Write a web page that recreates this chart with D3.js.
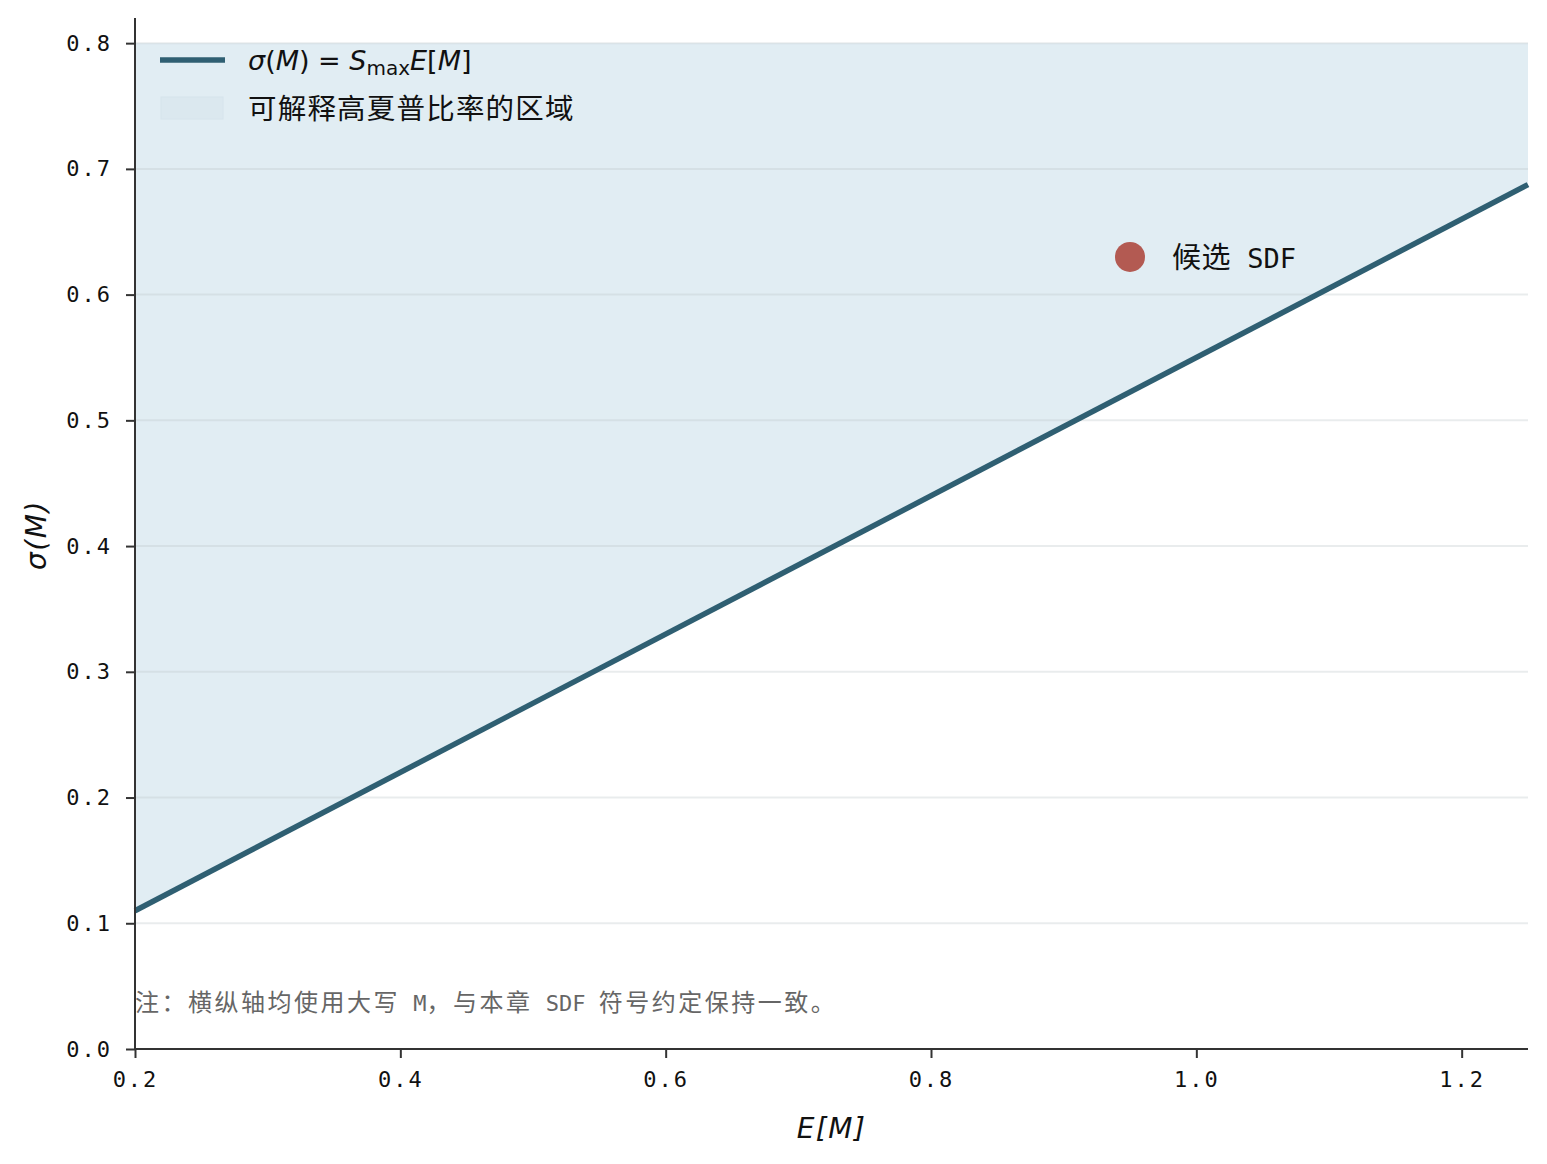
<!DOCTYPE html>
<html><head><meta charset="utf-8">
<script src="https://cdn.jsdelivr.net/npm/d3@7"></script>
<style>
body{margin:0;background:#fff;}
</style></head>
<body><svg id="chart" width="1547" height="1164" font-family="'Noto Sans CJK SC','DejaVu Sans',sans-serif"></svg>
<script>
const xDomain = [0.2, 1.25];
const yDomain = [0, 0.82];
const xTicks = [0.2, 0.4, 0.6, 0.8, 1.0, 1.2];
const yTicks = [0.0, 0.1, 0.2, 0.3, 0.4, 0.5, 0.6, 0.7, 0.8];
const sMax = 0.55;
const lineX = [0.2, 1.25];
const lineY = [0.11, 0.6875];
const regionTop = 0.8;
const candidate = [0.95, 0.63];
const candidateLabel = "候选 SDF";
const legendRegion = "可解释高夏普比率的区域";
const note = "注：横纵轴均使用大写 M，与本章 SDF 符号约定保持一致。";

const MONO = "'DejaVu Sans Mono','Noto Sans CJK SC',monospace";
const CJK = "'Noto Sans CJK SC',sans-serif";
const svg = d3.select("#chart");
const m = {l:135, r:1528, t:18, b:1049};
const x = d3.scaleLinear().domain(xDomain).range([m.l, m.r]);
const y = d3.scaleLinear().domain(yDomain).range([m.b, m.t]);

// split text into CJK / latin runs, style separately
function richText(sel, str, cjkSize, cjkSpacing, latinSize) {
  const runs = str.match(/[\u3000-\u9fff\uff00-\uffef]+|[^\u3000-\u9fff\uff00-\uffef]+/g);
  runs.forEach(r => {
    const cjk = /[\u3000-\u9fff\uff00-\uffef]/.test(r);
    sel.append("tspan")
      .attr("font-family", cjk ? CJK : MONO)
      .attr("font-size", cjk ? cjkSize : latinSize)
      .attr("letter-spacing", cjk ? cjkSpacing : 0)
      .text(r);
  });
}

const pts = lineX.map((v,i)=>({x:v, y:lineY[i]}));

// fill region
svg.append("path")
  .datum(pts)
  .attr("fill","#e1edf3")
  .attr("d", d3.area().x(d=>x(d.x)).y0(y(regionTop)).y1(d=>y(d.y)));

// grid
svg.append("g").selectAll("line").data(yTicks.filter(t=>t>0)).join("line")
  .attr("x1", m.l).attr("x2", m.r)
  .attr("y1", d=>y(d)).attr("y2", d=>y(d))
  .attr("stroke","#bfc8cc").attr("stroke-opacity",0.35).attr("stroke-width",2);

// line
svg.append("path").datum(pts)
  .attr("fill","none").attr("stroke","#2f5f72").attr("stroke-width",5.5)
  .attr("d", d3.line().x(d=>x(d.x)).y(d=>y(d.y)));

// candidate
svg.append("circle").attr("cx", x(candidate[0])).attr("cy", y(candidate[1])).attr("r",15)
  .attr("fill","#b35a52");
const cl = svg.append("text").attr("x", x(candidate[0])+42).attr("y", y(candidate[1])+11)
  .attr("fill","#111").style("white-space","pre");
richText(cl, candidateLabel, 29, 0.5, 27);

// axes
const fmt = d3.format(".1f");
const xAxis = svg.append("g").attr("transform",`translate(0,${m.b})`)
  .call(d3.axisBottom(x).tickValues(xTicks).tickFormat(fmt).tickSize(9).tickPadding(13));
const yAxis = svg.append("g").attr("transform",`translate(${m.l},0)`)
  .call(d3.axisLeft(y).tickValues(yTicks).tickFormat(fmt).tickSize(9).tickPadding(14));
[xAxis,yAxis].forEach(a=>{
  a.attr("font-family",MONO).attr("font-size",22);
  a.select(".domain").attr("stroke","#333").attr("stroke-width",2);
  a.selectAll(".tick line").attr("stroke","#333").attr("stroke-width",2);
  a.selectAll(".tick text").attr("fill","#111").attr("letter-spacing",2);
});
xAxis.select(".domain").attr("d",`M${m.l},0H${m.r}`);
yAxis.select(".domain").attr("d",`M0,${m.b}V${m.t}`);

// axis labels
svg.append("text").attr("x",(m.l+m.r)/2).attr("y",1138).attr("text-anchor","middle")
  .attr("font-size",28).attr("font-style","italic").attr("font-family","DejaVu Sans").attr("fill","#111")
  .attr("letter-spacing",1.5).text("E[M]");
svg.append("text").attr("transform",`translate(46,535) rotate(-90)`).attr("text-anchor","middle")
  .attr("font-size",28).attr("font-style","italic").attr("font-family","DejaVu Sans").attr("fill","#111")
  .attr("letter-spacing",1.5).text("σ(M)");

// note
const nt = svg.append("text").attr("x",m.l).attr("y",1011).attr("fill","#666").style("white-space","pre");
richText(nt, note, 24, 2.5, 22);

// legend
const lg = svg.append("g");
lg.append("line").attr("x1",160).attr("x2",225).attr("y1",60).attr("y2",60)
  .attr("stroke","#2f5f72").attr("stroke-width",5.5);
const t1 = lg.append("text").attr("x",248).attr("y",70).attr("font-size",27)
  .attr("font-family","DejaVu Sans").attr("fill","#111").style("white-space","pre");
t1.append("tspan").attr("font-style","italic").text("σ");
t1.append("tspan").text("(");
t1.append("tspan").attr("font-style","italic").text("M");
t1.append("tspan").text(") = ");
t1.append("tspan").attr("font-style","italic").text("S");
t1.append("tspan").attr("font-size",20).attr("dy",5).text("max");
t1.append("tspan").attr("font-style","italic").attr("dy",-5).text("E");
t1.append("tspan").text("[");
t1.append("tspan").attr("font-style","italic").text("M");
t1.append("tspan").text("]");
lg.append("rect").attr("x",161).attr("y",97).attr("width",62).attr("height",22)
  .attr("fill","#dbe8ef").attr("stroke","#d6e4ec");
lg.append("text").attr("x",248).attr("y",119).attr("font-family",CJK)
  .attr("font-size",28.5).attr("fill","#111").attr("letter-spacing",1.2).text(legendRegion);
</script></body></html>
